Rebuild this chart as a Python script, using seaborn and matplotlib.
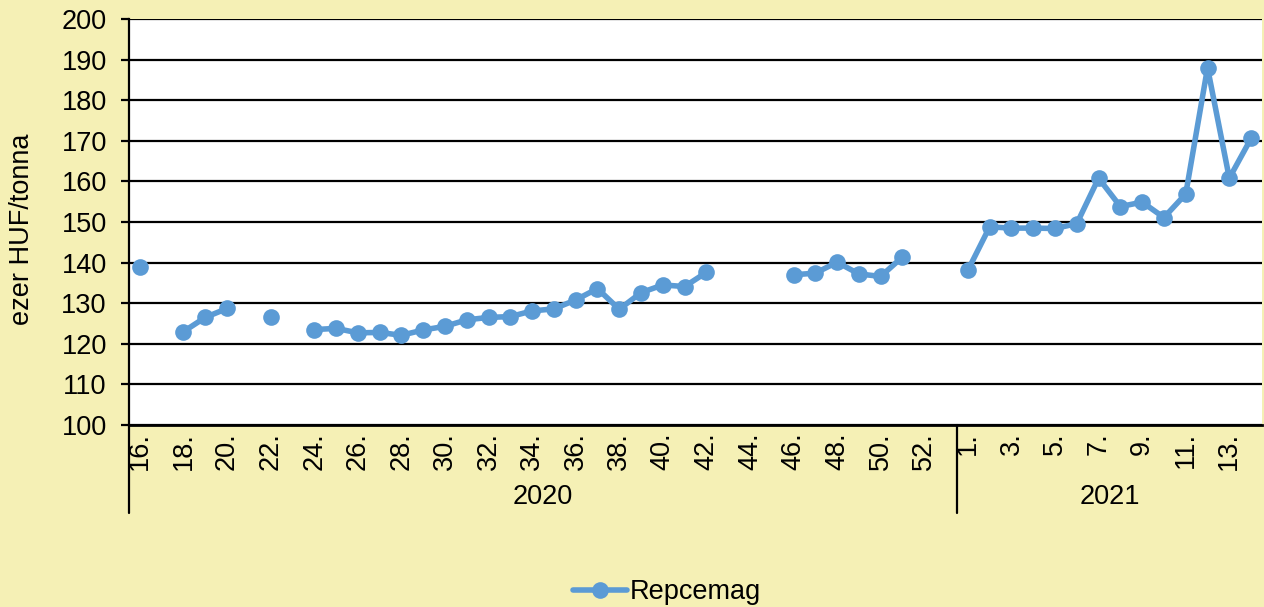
import numpy as np
import pandas as pd
import matplotlib
matplotlib.use("Agg")
import matplotlib.pyplot as plt
import matplotlib.transforms as mtransforms
from matplotlib.lines import Line2D
import seaborn as sns

# ---- data ----
weeks_2020 = list(range(16, 54))
weeks_2021 = list(range(1, 15))
values_2020 = [139.0, np.nan, 123.0, 126.5, 128.7, np.nan, 126.6, np.nan,
               123.5, 123.8, 122.7, 122.8, 122.1, 123.4, 124.3, 125.9,
               126.5, 126.7, 128.1, 128.6, 130.8, 133.6, 128.5, 132.6,
               134.5, 134.1, 137.6, np.nan, np.nan, np.nan, 137.0, 137.4,
               140.1, 137.2, 136.6, 141.4, np.nan, np.nan]
values_2021 = [138.1, 148.8, 148.5, 148.5, 148.4, 149.6, 160.8, 153.8,
               154.9, 151.1, 156.9, 188.0, 160.8, 170.6]
series_name = "Repcemag"
year_labels = ["2020", "2021"]
y_label = "ezer HUF/tonna"

week_labels = [f"{w}." for w in weeks_2020] + [f"{w}." for w in weeks_2021]
values = values_2020 + values_2021
years = [year_labels[0]] * len(weeks_2020) + [year_labels[1]] * len(weeks_2021)

df = pd.DataFrame({"label": week_labels, "value": values, "year": years})
df["pos"] = np.arange(len(df))
# segment ids so that gaps (missing weeks) are not bridged
df["segment"] = (df["value"].isna()).cumsum()
plot_df = df.dropna(subset=["value"])

# ---- style ----
BG = "#F5F0B5"
LINE = "#5B9BD5"
sns.set_theme(style="white")
plt.rcParams["font.family"] = ["Liberation Sans", "DejaVu Sans"]
plt.rcParams["text.color"] = "black"
plt.rcParams["xtick.color"] = "black"
plt.rcParams["ytick.color"] = "black"
plt.rcParams["axes.labelcolor"] = "black"
FS = 19.5
LW = 4.0
MS = 12

fig = plt.figure(figsize=(12.64, 6.07), dpi=100, facecolor=BG)
ax = fig.add_axes([129 / 1264, 1 - 425 / 607, (1262 - 129) / 1264, (425 - 19) / 607])
ax.set_facecolor("white")

sns.lineplot(data=plot_df, x="pos", y="value", units="segment", estimator=None,
             color=LINE, lw=LW, marker="o", markersize=MS,
             markeredgewidth=0, ax=ax, legend=False)

n = len(df)
ax.set_xlim(-0.5, n - 0.5)
ax.set_ylim(100, 200)
ax.set_yticks(np.arange(100, 201, 10))
ax.yaxis.grid(True, color="black", lw=1.6)
ax.set_axisbelow(True)
ax.tick_params(axis="y", which="both", left=True, length=6, width=1.6,
               color="black", labelsize=FS, pad=10)
ax.set_xticks(df["pos"][::2])
ax.set_xticklabels(df["label"][::2], rotation=90, fontsize=FS, va="top")
ax.tick_params(axis="x", length=0, pad=5)
for s in ["top", "right"]:
    ax.spines[s].set_visible(False)
ax.spines["left"].set_color("black")
ax.spines["left"].set_linewidth(1.6)
ax.spines["bottom"].set_color("black")
ax.spines["bottom"].set_linewidth(2)

ax.set_xlabel("")
ax.set_ylabel("")
fig.text(22 / 1264, 1 - 229 / 607, y_label, rotation=90, ha="center",
         va="center", fontsize=FS)

# multi-level category axis: separators and year labels
trans = mtransforms.blended_transform_factory(ax.transData, ax.transAxes)
low = -88 / 406
boundary = len(weeks_2020) - 0.5
for xb in [-0.5, boundary]:
    ax.add_line(Line2D([xb, xb], [0, low], transform=trans, color="black",
                       lw=1.6, clip_on=False))
centers = [(-0.5 + boundary) / 2, (boundary + n - 0.5) / 2]
for c, yl in zip(centers, year_labels):
    ax.text(c, -72 / 406, yl, transform=trans, ha="center", va="center",
            fontsize=FS)

# legend
handle = Line2D([], [], color=LINE, lw=LW, marker="o", markersize=MS,
                markeredgewidth=0)
fig.legend([handle], [series_name], loc="center",
           bbox_to_anchor=(667 / 1264, 1 - 592 / 607), frameon=False,
           fontsize=FS, handlelength=2.0, handletextpad=0.1)

fig.savefig("out.png", dpi=100, facecolor=BG)
